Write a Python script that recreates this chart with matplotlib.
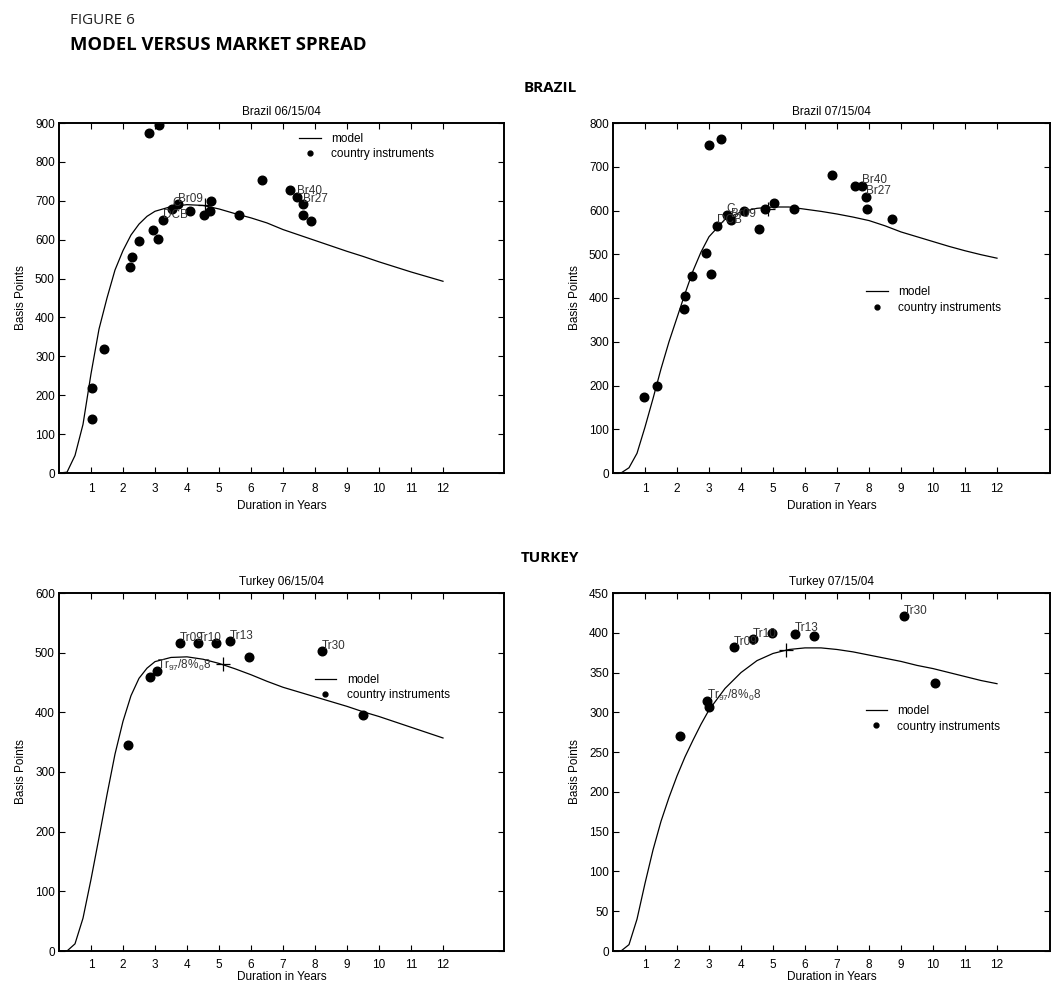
import numpy as np
import matplotlib
matplotlib.use("Agg")
import matplotlib.pyplot as plt
from matplotlib.lines import Line2D

plt.rcParams["font.family"] = ["Liberation Sans", "DejaVu Sans"]
plt.rcParams["mathtext.default"] = "regular"

# ── Data ───────────────────────────────────────────────────────────────────
curve_x = [0, 0.25, 0.5, 0.75, 1.0, 1.25, 1.5, 1.75, 2.0, 2.25, 2.5, 2.75,
           3.0, 3.5, 4.0, 4.5, 5.0, 5.5, 6.0, 6.5, 7.0, 7.5, 8.0, 8.5,
           9.0, 9.5, 10.0, 10.5, 11.0, 11.5, 12.0]

br06_model = [0, 2, 45, 125, 255, 370, 450, 522, 572, 612, 640, 660,
              673, 685, 690, 688, 679, 667, 656, 643, 626, 612, 598, 584,
              570, 557, 543, 530, 517, 505, 493]
br06_x = [1.02, 1.03, 1.40, 2.22, 2.27, 2.50, 2.94, 3.09, 3.26, 3.54, 3.71,
          4.08, 4.54, 4.73, 4.75, 5.63, 6.33, 7.23, 7.45, 7.62, 7.64, 7.88,
          2.81, 3.13]
br06_y = [139, 218, 319, 530, 555, 597, 624, 602, 650, 679, 691,
          673, 663, 675, 699, 663, 753, 727, 710, 691, 663, 648,
          874, 895]
br06_labels = {8: "DCB", 9: "C", 10: "Br09", 18: "Br40", 19: "Br27"}
br06_cross = (4.55, 690)

br07_model = [0, 0, 12, 45, 105, 170, 238, 300, 355, 410, 462, 505,
              540, 580, 597, 605, 608, 608, 603, 598, 592, 585, 577, 565,
              551, 540, 529, 518, 508, 499, 491]
br07_x = [0.97, 1.38, 2.22, 2.24, 2.48, 2.90, 3.05, 3.24, 3.55, 3.69, 4.08,
          4.56, 4.75, 5.04, 5.66, 6.85, 7.57, 7.79, 7.90, 7.93, 8.72,
          3.01, 3.38]
br07_y = [174, 199, 375, 405, 450, 504, 454, 565, 590, 579, 600,
          558, 604, 618, 603, 682, 656, 656, 631, 603, 581,
          750, 763]
br07_labels = {7: "DCB", 8: "C", 9: "Br09", 17: "Br40", 18: "Br27"}
br07_cross = (4.85, 604)

tr06_model = [0, 0, 12, 55, 120, 190, 262, 330, 385, 428, 457, 474,
              485, 492, 493, 489, 482, 473, 463, 452, 442, 434, 426, 418,
              410, 401, 393, 384, 375, 366, 357]
tr06_x = [2.16, 2.84, 3.07, 3.77, 4.33, 4.92, 5.34, 5.93, 8.21, 9.50]
tr06_y = [345, 460, 470, 516, 516, 517, 519, 493, 502, 395]
tr06_labels = {2: r"Tr$_{97}$/8%$_0$8", 3: "Tr09", 4: "Tr10", 6: "Tr13", 8: "Tr30"}
tr06_cross = (5.13, 481)

tr07_model = [0, 0, 8, 40, 85, 127, 163, 193, 220, 244, 265, 285,
              303, 330, 350, 365, 374, 379, 381, 381, 379, 376, 372, 368,
              364, 359, 355, 350, 345, 340, 336]
tr07_x = [2.09, 2.95, 3.01, 3.77, 4.37, 4.98, 5.68, 6.29, 9.08, 10.07]
tr07_y = [270, 314, 307, 382, 392, 400, 399, 396, 421, 337]
tr07_labels = {1: r"Tr$_{97}$/8%$_0$8", 3: "Tr09", 4: "Tr10", 6: "Tr13", 8: "Tr30"}
tr07_cross = (5.41, 378)

x_ticks = list(range(1, 13))

# ── Figure ─────────────────────────────────────────────────────────────────
W, H = 1053, 983
fig = plt.figure(figsize=(W / 100, H / 100), dpi=100, facecolor="white")

panels = [
    # title, model, xs, ys, labels, cross, ymax, ystep,
    # rect (px: left, top, w, h), legend anchor, x tick pad, xlabel pad
    ("Brazil 06/15/04", br06_model, br06_x, br06_y, br06_labels, br06_cross,
     900, 100, (59, 123, 445, 350), (0.54, 0.972), 7, 3.5),
    ("Brazil 07/15/04", br07_model, br07_x, br07_y, br07_labels, br07_cross,
     800, 100, (613, 123, 437, 350), (0.58, 0.534), 7, 3.5),
    ("Turkey 06/15/04", tr06_model, tr06_x, tr06_y, tr06_labels, tr06_cross,
     600, 100, (59, 593, 445, 358), (0.575, 0.774), 5.5, 0),
    ("Turkey 07/15/04", tr07_model, tr07_x, tr07_y, tr07_labels, tr07_cross,
     450, 50, (613, 593, 437, 358), (0.578, 0.687), 5.5, 0),
]

for (title, model, xs, ys, labels, cross, ymax, ystep, rect, leg_at,
     tpad, xpad) in panels:
    l, t, w, h = rect
    ax = fig.add_axes([l / W, 1 - (t + h) / H, w / W, h / H])
    line, = ax.plot(curve_x, model, color="black", lw=0.9)
    ax.plot(xs, ys, "o", color="black", ms=6.2, ls="none")
    ax.plot(*cross, "+", color="black", ms=10, mew=0.9)
    for i, txt in labels.items():
        ax.annotate(txt, (xs[i], ys[i]), xytext=(0, 4), textcoords="offset points",
                    ha="left", va="center", fontsize=8.5, color="#333333")

    ax.set_xlim(0, w / 32.0)
    ax.set_ylim(0, ymax)
    ax.set_xticks(x_ticks)
    ax.set_yticks(np.arange(0, ymax + 1, ystep))
    ax.tick_params(direction="in", top=True, right=True, length=4, width=0.8,
                   labelsize=8.5)
    ax.tick_params(axis="x", pad=tpad)
    ax.tick_params(axis="y", pad=3)
    for sp in ax.spines.values():
        sp.set_linewidth(1.4)
    ax.set_title(title, fontsize=8.5, pad=6)
    ax.set_xlabel("Duration in Years", fontsize=8.5, labelpad=xpad)
    ax.set_ylabel("Basis Points", fontsize=8.5, labelpad=6)

    dot = Line2D([], [], ls="none", marker="o", ms=3.5, color="black")
    ax.legend([line, dot], ["model", "country instruments"], loc="upper left",
              bbox_to_anchor=leg_at, frameon=False, fontsize=8.5,
              handlelength=1.8, handletextpad=0.9, labelspacing=0.3,
              borderpad=0, borderaxespad=0)

# ── Headings ───────────────────────────────────────────────────────────────
head = ["Open Sans", "DejaVu Sans"]
fig.text(70 / W, 1 - 21 / H, "FIGURE 6", family=head, fontsize=11,
         color="#222222", va="center", ha="left")
fig.text(70 / W, 1 - 45 / H, "MODEL VERSUS MARKET SPREAD", family=head,
         fontsize=13.3, fontweight="bold", va="center", ha="left")
fig.text(550 / W, 1 - 88 / H, "BRAZIL", family=head, fontsize=11,
         fontweight="bold", va="center", ha="center")
fig.text(550 / W, 1 - 558 / H, "TURKEY", family=head, fontsize=11,
         fontweight="bold", va="center", ha="center")

fig.savefig("out.png", dpi=100, facecolor="white")
